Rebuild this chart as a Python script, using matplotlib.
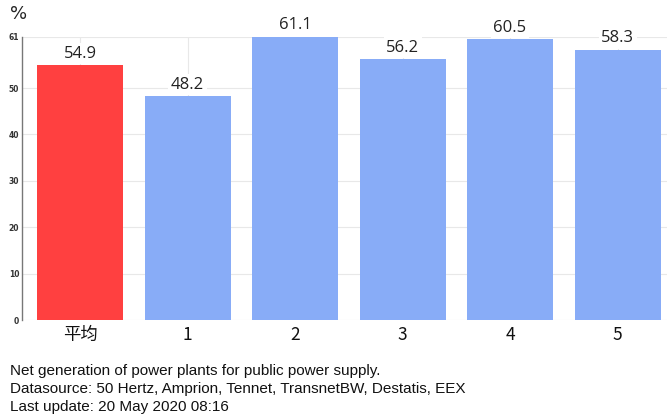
import matplotlib
matplotlib.use("Agg")
import matplotlib.pyplot as plt

categories = ["平均", "1", "2", "3", "4", "5"]
values = [54.9, 48.2, 61.1, 56.2, 60.5, 58.3]
yticks = [0, 10, 20, 30, 40, 50, 61]
footer = ["Net generation of power plants for public power supply.",
          "Datasource: 50 Hertz, Amprion, Tennet, TransnetBW, Destatis, EEX",
          "Last update: 20 May 2020 08:16"]

plt.rcParams['font.family'] = ['Noto Sans CJK SC', 'DejaVu Sans']

fig = plt.figure(figsize=(6.7, 4.19), dpi=100)
ax = fig.add_axes([22/670, 99/419, 645/670, 283/419])

colors = ["#ff4040"] + ["#88acf7"] * (len(values) - 1)
x = list(range(len(values)))
ax.bar(x, values, width=0.8, color=colors, zorder=2)

for xi, v in zip(x, values):
    ax.annotate(f"{v:.1f}", (xi, v), xytext=(0, 2.5), textcoords="offset points",
                ha="center", va="bottom", fontsize=12, color="#222222",
                family=["Open Sans", "DejaVu Sans"],
                bbox=dict(boxstyle="square,pad=0.15", fc="white", ec="none"),
                zorder=3)

ax.set_ylim(0, 61)
ax.set_xlim(-0.54, 5.46)
ax.set_yticks(yticks)
ax.set_yticklabels([str(t) for t in yticks], fontsize=5.5, fontweight="bold",
                   color="#333333", family=["DejaVu Sans"])
ax.set_xticks(x)
ax.set_xticklabels(categories, fontsize=12.5, color="#111111")
ax.tick_params(axis="both", length=0, pad=2)
ax.tick_params(axis="x", pad=4)

ax.grid(True, color="#e8e8e8", linewidth=0.8, zorder=0)
ax.set_axisbelow(True)
for s in ["top", "right", "bottom"]:
    ax.spines[s].set_visible(False)
ax.spines["left"].set_color("#777777")
ax.spines["left"].set_linewidth(1.0)

fig.text(10/670, 1 - 14/419, "%", fontsize=13, va="center", ha="left",
         family=["DejaVu Sans"], color="#222222")

for i, line in enumerate(footer):
    fig.text(10/670, 1 - (371 + i * 18) / 419, line, fontsize=11,
             va="center", ha="left", family=["Liberation Sans"], color="#111111")

fig.savefig("out.png", dpi=100)
